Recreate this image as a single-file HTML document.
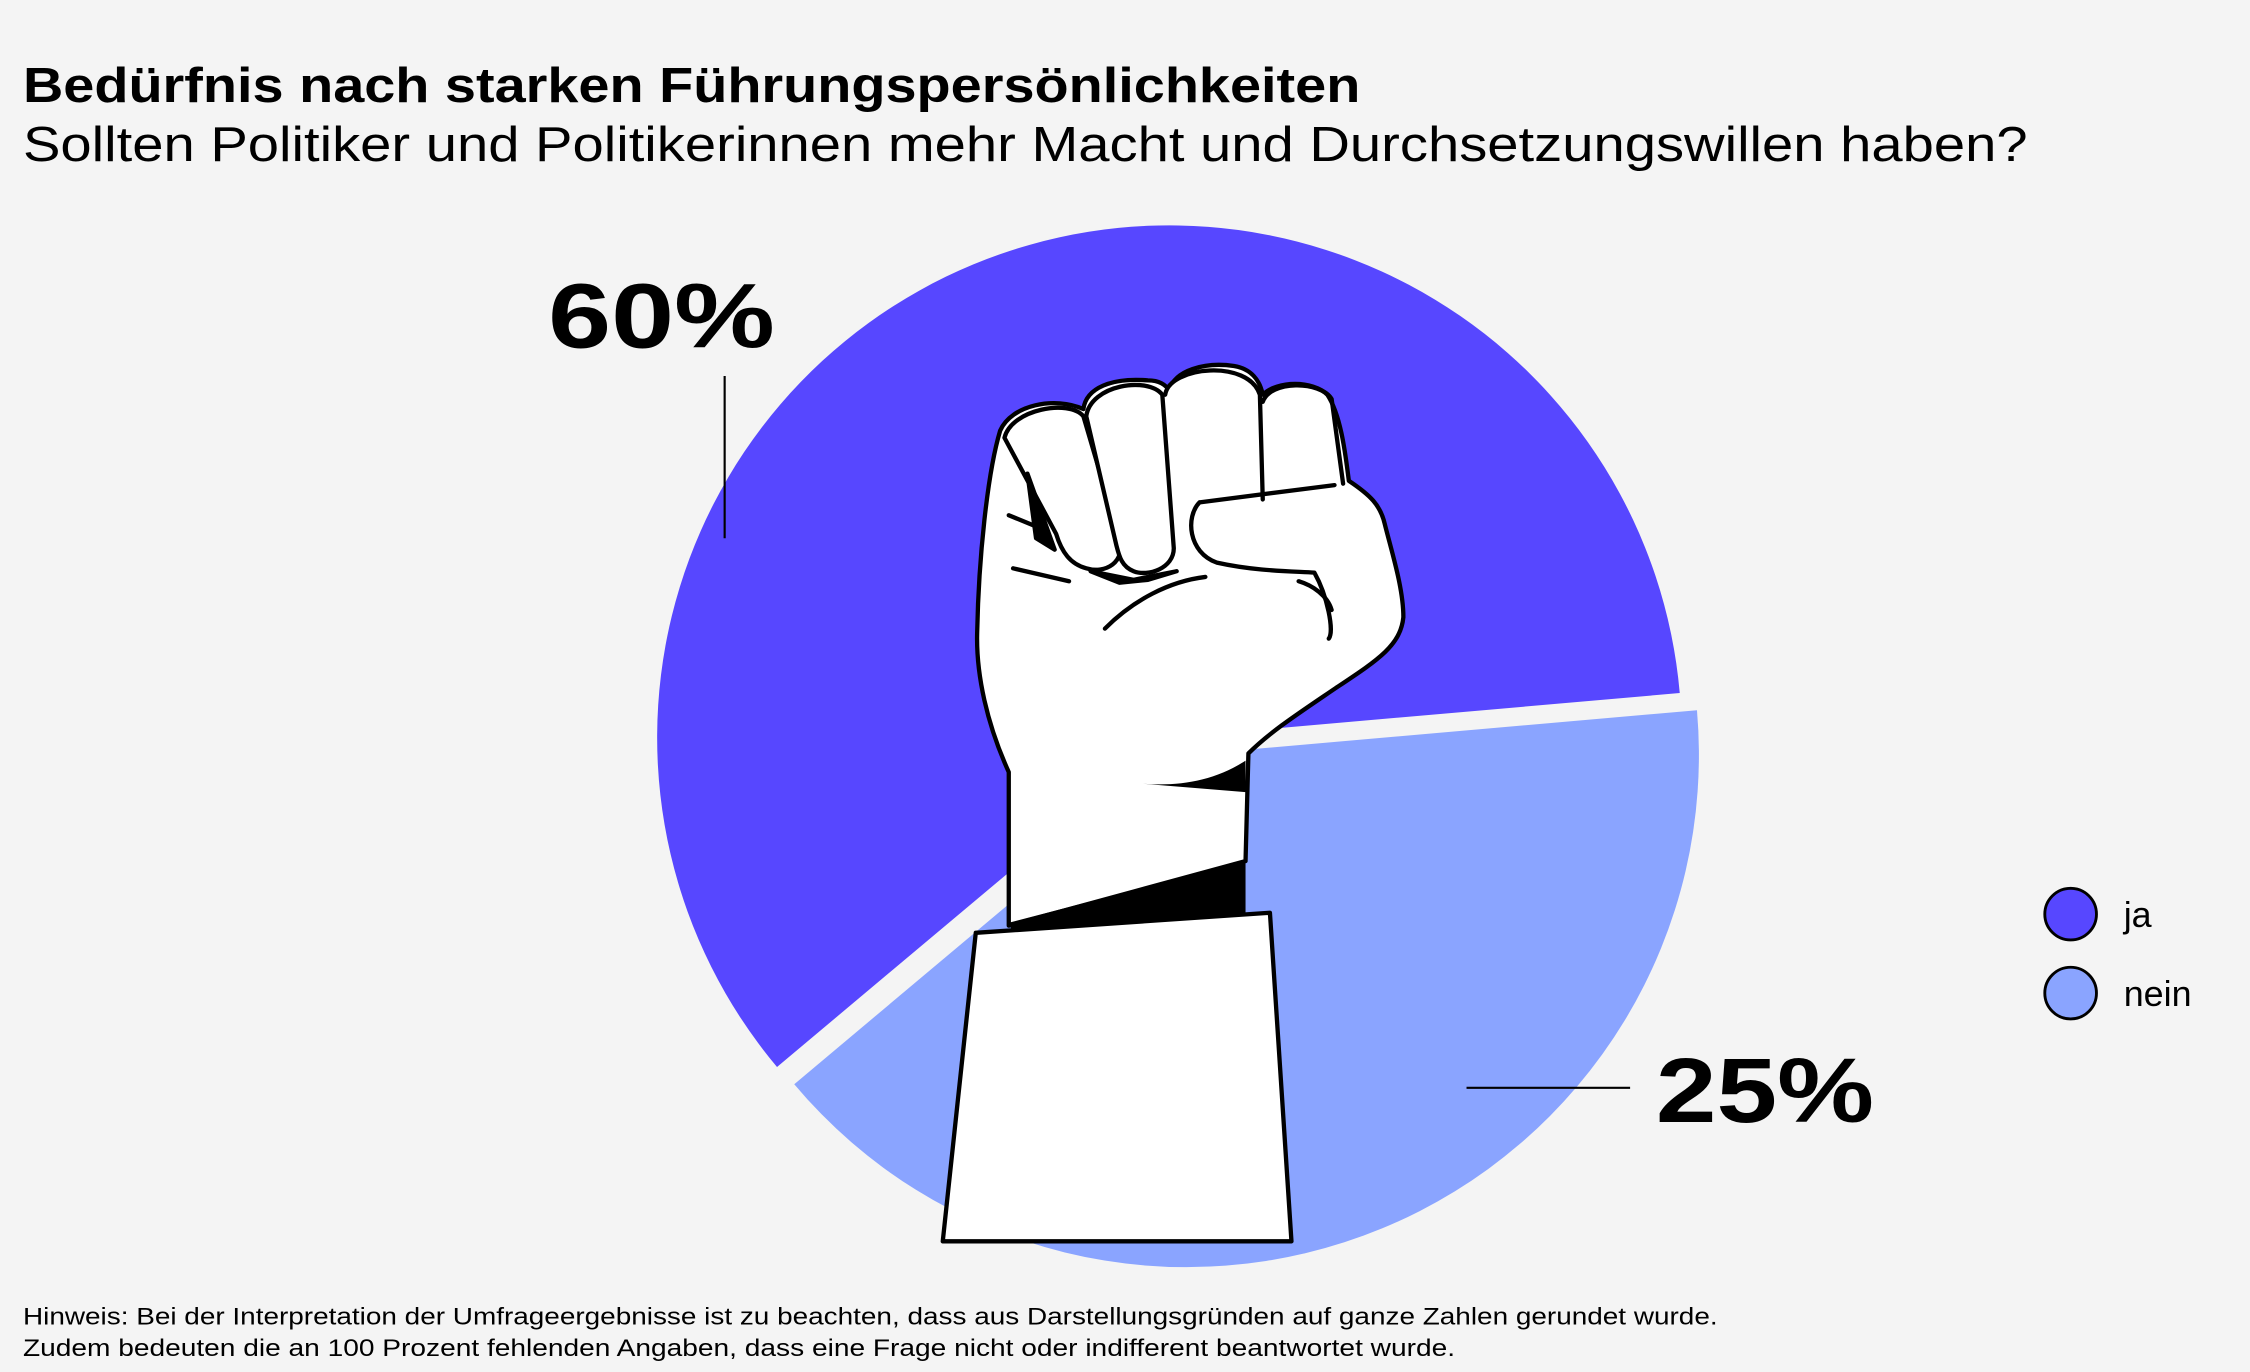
<!DOCTYPE html>
<html><head><meta charset="utf-8"><style>html,body{margin:0;padding:0;background:#f4f4f4}svg{display:block}</style></head>
<body>
<svg width="2250" height="1372" viewBox="0 0 1568 956" xmlns="http://www.w3.org/2000/svg" font-family="Liberation Sans, sans-serif">
<rect width="1568" height="956" fill="#f4f4f4"/>
<text x="16" y="71" font-size="34" font-weight="bold" fill="#000" textLength="932" lengthAdjust="spacingAndGlyphs">Bedürfnis nach starken Führungspersönlichkeiten</text>
<text x="16" y="112" font-size="34" fill="#000" textLength="1397" lengthAdjust="spacingAndGlyphs">Sollten Politiker und Politikerinnen mehr Macht und Durchsetzungswillen haben?</text>
<path d="M815,514 L1170.6,482.9 A357,357 0 1 0 541.5,743.5 Z" fill="#5747ff"/>
<path d="M827,526 L1182.6,494.9 A357,357 0 0 1 553.5,755.5 Z" fill="#8aa4ff"/>
<g stroke="#000" stroke-width="3" stroke-linejoin="round" stroke-linecap="round">
<path d="M703,645 L703,538 C688,505 680,470 681,440 C682,390 688,330 697,300 C705,282 735,276 755,285 C757,270 775,263 800,265 C808,265 812,268 815,272 C818,258 840,252 860,255 C872,257 878,265 880,275 C890,265 915,265 925,275 C935,290 938,320 940,335 C955,345 962,352 965,365 C970,385 978,410 978,430 C976,450 960,460 930,480 C905,497 885,510 870,525 L868,600 Z" fill="#fff"/>
<path d="M700,305 C705,285 745,278 755,290 L780,375 C785,392 770,400 757,396 C746,393 740,385 736,372 Z" fill="#fff"/>
<path d="M757,290 C760,268 800,262 810,275 L818,382 C818,396 800,402 790,398 C782,395 780,388 778,380 Z" fill="#fff"/>
<path d="M812,275 C815,255 870,250 878,275 L880,348" fill="#fff"/>
<path d="M880,280 C885,265 920,265 928,278 L936,337" fill="none"/>
<path d="M836,350 L930,338 M836,350 C826,360 828,385 848,392 C875,398 900,398 916,399 C925,415 930,440 926,445" fill="#fff"/>
<path d="M770,438 C790,418 815,405 840,402 M905,405 C915,408 925,415 928,425 M703,359 L720,366 M706,396 L745,405" fill="none"/>
<path d="M716,330 L722,375 L735,383 Z" fill="#000"/>
<path d="M760,398 L790,404 L820,398 L800,404 L780,406 Z" fill="#000"/>
</g>
<path d="M795,546 C820,548 845,545 868,530 L868,552 Z" fill="#000"/>
<path d="M703,643 L868,600 L868,636 L705,648 Z" fill="#000"/>
<path d="M680,650 L885,636 L900,865 L657,865 Z" fill="#fff" stroke="#000" stroke-width="3" stroke-linejoin="round"/>
<text x="382" y="242" font-size="64" font-weight="bold" fill="#000" textLength="158" lengthAdjust="spacingAndGlyphs">60%</text>
<line x1="505" y1="262" x2="505" y2="375" stroke="#000" stroke-width="1.5"/>
<text x="1154" y="782" font-size="64" font-weight="bold" fill="#000" textLength="152" lengthAdjust="spacingAndGlyphs">25%</text>
<line x1="1022" y1="758" x2="1136" y2="758" stroke="#000" stroke-width="1.5"/>
<circle cx="1443" cy="637" r="18" fill="#5747ff" stroke="#000" stroke-width="2"/>
<circle cx="1443" cy="692" r="18" fill="#8aa4ff" stroke="#000" stroke-width="2"/>
<text x="1480" y="646" font-size="25" fill="#000">ja</text>
<text x="1480" y="701" font-size="25" fill="#000">nein</text>
<text x="16" y="923" font-size="16.5" fill="#000" textLength="1181" lengthAdjust="spacingAndGlyphs">Hinweis: Bei der Interpretation der Umfrageergebnisse ist zu beachten, dass aus Darstellungsgründen auf ganze Zahlen gerundet wurde.</text>
<text x="16" y="945" font-size="16.5" fill="#000" textLength="998" lengthAdjust="spacingAndGlyphs">Zudem bedeuten die an 100 Prozent fehlenden Angaben, dass eine Frage nicht oder indifferent beantwortet wurde.</text>
</svg>
</body></html>
